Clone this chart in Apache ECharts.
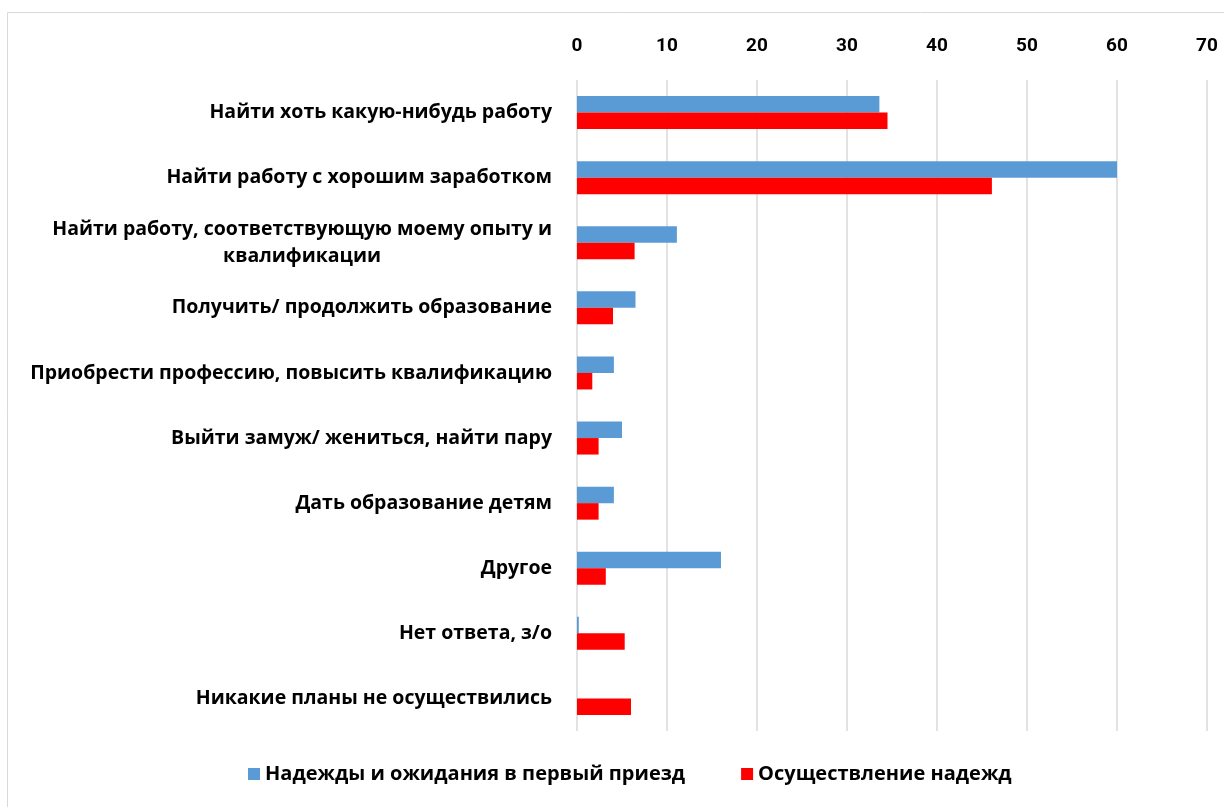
<!DOCTYPE html>
<html>
<head>
<meta charset="utf-8">
<script src="https://cdn.jsdelivr.net/npm/echarts@6/dist/echarts.min.js"></script>
<style>
  html, body { margin: 0; padding: 0; background: #fff; }
  #chart { width: 1224px; height: 807px; }
</style>
</head>
<body>
<div id="chart"></div>
<script>
  // категории сверху вниз
  var categories = [
    'Найти хоть какую-нибудь работу',
    'Найти работу с хорошим заработком',
    'Найти работу, соответствующую моему опыту и\nквалификации',
    'Получить/ продолжить образование',
    'Приобрести профессию, повысить квалификацию',
    'Выйти замуж/ жениться, найти пару',
    'Дать образование детям',
    'Другое',
    'Нет ответа, з/о',
    'Никакие планы не осуществились'
  ];
  var hopes = [33.6, 60, 11.1, 6.5, 4.1, 5.0, 4.1, 16.0, 0.2, 0];
  var fulfilled = [34.5, 46.1, 6.4, 4.0, 1.7, 2.4, 2.4, 3.2, 5.3, 6.0];
  var xTicks = [0, 10, 20, 30, 40, 50, 60, 70];

  var font = '"Open Sans", "Liberation Sans", sans-serif';

  var myChart = echarts.init(document.getElementById('chart'));
  myChart.setOption({
    animation: false,
    textStyle: { fontFamily: font },
    graphic: [{
      type: 'rect',
      shape: { x: 7.5, y: 12.5, width: 1240, height: 820 },
      style: { fill: 'none', stroke: '#d9d9d9', lineWidth: 1 },
      silent: true
    }],
    grid: { left: 577, right: 17, top: 80, bottom: 76 },
    legend: {
      bottom: 18,
      left: 243,
      itemWidth: 12,
      itemHeight: 12,
      itemGap: 56,
      icon: 'rect',
      textStyle: { fontSize: 20, fontWeight: 'bold', color: '#000', fontFamily: font },
      data: ['Надежды и ожидания в первый приезд', 'Осуществление надежд']
    },
    xAxis: {
      type: 'value',
      position: 'top',
      min: xTicks[0],
      max: xTicks[xTicks.length - 1],
      interval: 10,
      axisLine: { show: false },
      axisTick: { show: false },
      axisLabel: { margin: 24, fontSize: 19, fontWeight: 'bold', color: '#000', fontFamily: 'Roboto, sans-serif' },
      splitLine: { lineStyle: { color: '#d9d9d9', width: 1.5 } }
    },
    yAxis: {
      type: 'category',
      inverse: true,
      data: categories,
      axisLine: { show: false },
      axisTick: { show: false },
      axisLabel: {
        margin: 25,
        fontSize: 19.5,
        fontWeight: 'bold',
        color: '#000',
        lineHeight: 27,
        formatter: function (v) {
          return v.split('\n').map(function (s) { return '{c|' + s + '}'; }).join('\n');
        },
        rich: {
          c: { fontSize: 19.5, fontWeight: 'bold', color: '#000', align: 'center', lineHeight: 27, fontFamily: font }
        }
      }
    },
    series: [
      {
        name: 'Надежды и ожидания в первый приезд',
        type: 'bar',
        data: hopes,
        barWidth: 16.5,
        barGap: '0%',
        itemStyle: { color: '#5B9BD5' }
      },
      {
        name: 'Осуществление надежд',
        type: 'bar',
        data: fulfilled,
        barWidth: 16.5,
        itemStyle: { color: '#FF0000' }
      }
    ]
  });
</script>
</body>
</html>
